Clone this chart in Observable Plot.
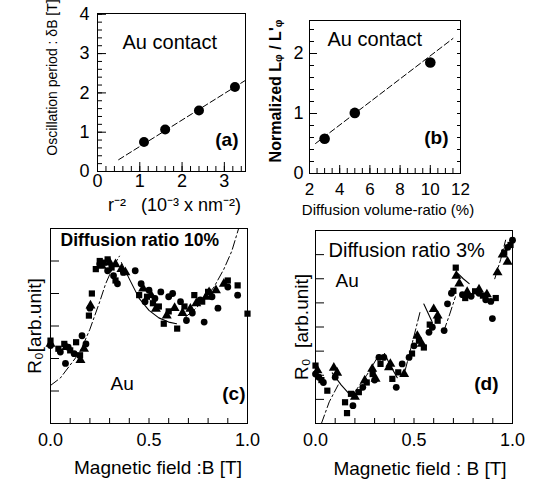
<!DOCTYPE html>
<html><head><meta charset="utf-8">
<script src="https://cdn.jsdelivr.net/npm/d3@7"></script>
<script src="https://cdn.jsdelivr.net/npm/@observablehq/plot@0.6"></script>
<style>
body{margin:0;background:#fff;}
#fig{position:relative;width:535px;height:485px;background:#fff;overflow:hidden;}
</style></head><body><div id="fig"></div>
<script>
// ---------- Panel (a) ----------
const aX = [1.10, 1.60, 2.40, 3.25];
const aY = [0.75, 1.07, 1.55, 2.15];
const aFitX = [0.5, 3.5];
const aFitY = [0.30, 2.32];
const aXTicks = [0, 1, 2, 3];
const aYTicks = [0, 1, 2, 3, 4];

// ---------- Panel (b) ----------
const bX = [3, 5, 10];
const bY = [0.58, 1.01, 1.85];
const bFitX = [2.4, 11.5];
const bFitY = [0.50, 2.25];
const bXTicks = [2, 4, 6, 8, 10, 12];
const bYTicks = [0, 1, 2];

// ---------- Panel (c) : diffusion ratio 10% ----------
const cCircleX = [0.00,0.05,0.076,0.09,0.12,0.16,0.18,0.20,0.25,0.29,0.32,0.34,0.37,0.43,0.46,0.48,0.50,0.53,0.56,0.60,0.62,0.66,0.69,0.72,0.76,0.78,0.82,0.85,0.90,0.95];
const cCircleY = [2.40,2.20,1.85,2.35,2.15,2.70,2.45,3.55,4.90,4.70,4.55,4.30,4.65,4.70,4.30,3.75,4.10,3.85,4.05,3.90,4.00,3.75,3.17,3.40,3.80,3.12,3.90,3.55,4.20,3.95];
const cSquareX = [0.00,0.04,0.07,0.10,0.13,0.15,0.195,0.21,0.23,0.25,0.27,0.29,0.31,0.33,0.45,0.49,0.52,0.55,0.575,0.60,0.643,0.68,0.73,0.77,0.80,0.90,0.95,1.00];
const cSquareY = [2.55,2.30,2.45,2.25,2.50,2.10,3.32,4.00,4.75,5.00,4.95,5.05,4.80,4.40,3.95,3.90,3.70,3.60,3.07,3.45,2.92,3.60,3.95,3.75,4.05,4.40,4.25,3.38];
const cTriX = [0.00,0.08,0.152,0.17,0.203,0.26,0.30,0.33,0.36,0.38,0.47,0.51,0.535,0.59,0.63,0.67,0.71,0.74,0.79,0.805,0.84,0.88];
const cTriY = [2.45,2.35,1.95,2.30,3.63,4.85,4.95,4.90,4.75,4.65,4.15,3.95,3.53,3.32,3.55,3.40,3.53,3.70,3.90,4.04,4.10,4.30];
const cFitX = [0,0.05,0.10,0.15,0.20,0.25,0.28,0.32,0.35, 0.36,0.40,0.45,0.50,0.55,0.60,0.64, 0.68,0.73,0.78,0.83,0.88,0.92,0.955];
const cFitY = [1.17,1.40,1.80,2.20,2.90,3.75,4.30,4.85,5.15, 4.95,4.45,3.85,3.48,3.25,3.12,3.07, 3.25,3.50,3.80,4.20,4.75,5.30,6.00];
const cFitSeg = [1,1,1,1,1,1,1,1,1, 2,2,2,2,2,2,2, 3,3,3,3,3,3,3];

// ---------- Panel (d) : diffusion ratio 3% ----------
const dCircleX = [0.00,0.017,0.04,0.10,0.19,0.24,0.30,0.322,0.347,0.41,0.44,0.475,0.50,0.576,0.593,0.653,0.67,0.69,0.746,0.79,0.83,0.864,0.89,0.898,0.975,1.00];
const dCircleY = [2.05,1.92,1.70,1.92,0.74,1.50,1.80,2.74,2.74,1.50,2.47,2.74,3.22,3.78,3.99,3.85,4.96,5.40,5.34,5.27,5.40,5.13,5.06,4.35,7.30,7.60];
const dSquareX = [0.00,0.03,0.06,0.15,0.16,0.18,0.22,0.26,0.29,0.33,0.39,0.42,0.49,0.525,0.55,0.58,0.62,0.70,0.712,0.76,0.81,0.85,0.915,0.958,0.99];
const dSquareY = [2.40,1.80,1.36,0.88,0.43,1.23,1.30,1.70,2.05,2.47,1.85,2.12,2.90,3.43,3.15,4.10,4.26,5.50,6.46,5.20,5.48,5.30,5.20,7.08,7.40];
const dTriX = [0.01,0.093,0.11,0.20,0.25,0.288,0.305,0.373,0.38,0.45,0.517,0.54,0.60,0.62,0.715,0.73,0.77,0.83,0.87,0.924,0.95,0.975];
const dTriY = [2.20,2.31,2.10,1.10,1.78,2.26,1.85,2.33,2.47,2.05,3.63,3.30,4.74,4.47,6.12,5.80,5.45,5.55,5.35,6.26,7.00,6.70];
const dFitX = [0.03,0.07,0.115, 0.085,0.13,0.18, 0.19,0.26,0.33, 0.35,0.38,0.415, 0.455,0.49,0.53, 0.55,0.57,0.59, 0.65,0.68,0.71, 0.725,0.75,0.78, 0.91,0.94,0.965];
const dFitY = [0.00,0.90,1.60, 2.10,1.60,1.15, 1.20,2.00,2.95, 2.90,2.40,1.90, 2.20,3.30,4.60, 4.95,4.60,4.25, 3.80,4.50,5.25, 6.20,6.00,5.80, 6.00,6.80,7.60];
const dFitSeg = [1,1,1, 2,2,2, 3,3,3, 4,4,4, 5,5,5, 6,6,6, 7,7,7, 8,8,8, 9,9,9];

const B_TICKS = [0, 0.5, 1.0];

// ---------- helpers ----------
const FONT = "'Liberation Sans', Arial, Helvetica, sans-serif";
const fig = document.getElementById("fig");
const zip = (xs, ys) => xs.map((x, i) => ({x, y: ys[i]}));
const fit = (xs, ys, seg) => xs.map((x, i) => ({x, y: ys[i], s: seg ? seg[i] : 0}));
const DASHDOT = "9,3,2,3";
const T = (s, o) => Plot.text([s], {lineAnchor: "middle", ...o});

function place(svg, left, top) {
  svg.style.position = "absolute";
  svg.style.left = left + "px";
  svg.style.top = top + "px";
  fig.appendChild(svg);
}

function base(o) {
  return Plot.plot({
    width: o.w, height: o.h,
    marginLeft: o.ml, marginRight: o.mr, marginTop: o.mt, marginBottom: o.mb,
    x: {domain: o.xd}, y: {domain: o.yd},
    style: {fontFamily: FONT, background: "transparent", overflow: "visible", color: "black"},
    marks: o.marks
  });
}

// ---------- (a) ----------
place(base({
  w: 265, h: 225, ml: 97, mr: 20, mt: 13, mb: 54,
  xd: [0, 3.5], yd: [0, 4.02],
  marks: [
    Plot.frame({stroke: "black"}),
    Plot.axisX({ticks: aXTicks, anchor: "bottom", tickSize: -9, fill: "none", label: null}),
    Plot.axisX({ticks: d3.range(0, 3.51, 0.2), anchor: "bottom", tickSize: -5, fill: "none", label: null}),
    Plot.axisX({ticks: aXTicks, anchor: "bottom", tickSize: 0, tickPadding: 3, fontSize: 18, tickFormat: d => d, label: null}),
    Plot.axisY({ticks: aYTicks, anchor: "left", tickSize: -9, fill: "none", label: null}),
    Plot.axisY({ticks: d3.range(0, 4.01, 0.2), anchor: "left", tickSize: -5, fill: "none", label: null}),
    Plot.axisY({ticks: aYTicks, anchor: "left", tickSize: 0, tickPadding: 8, fontSize: 18, tickFormat: d => d, label: null}),
    Plot.line(zip(aFitX, aFitY), {x: "x", y: "y", stroke: "black", strokeWidth: 1, strokeDasharray: "6,3"}),
    Plot.dot(zip(aX, aY), {x: "x", y: "y", r: 5, fill: "black", stroke: "none"}),
    T("Au contact", {frameAnchor: "top-left", textAnchor: "start", dx: 25, dy: 29, fontSize: 20}),
    T("(a)", {frameAnchor: "bottom-right", textAnchor: "end", dx: -7, dy: -32, fontSize: 19, fontWeight: "bold"}),
    T("r\u207B\u00B2\u00A0\u00A0\u00A0(10\u207B\u00B3 x nm\u207B\u00B2)", {frameAnchor: "bottom", textAnchor: "middle", dx: 3, dy: 34, fontSize: 18}),
    T("Oscillation period : \u03B4B [T]", {frameAnchor: "left", textAnchor: "middle", rotate: -90, dx: -45, dy: -15, fontSize: 14})
  ]
}), 0, 0);

// ---------- (b) ----------
place(base({
  w: 270, h: 225, ml: 44, mr: 75, mt: 20, mb: 52,
  xd: [2, 12], yd: [0, 2.55],
  marks: [
    Plot.frame({stroke: "black"}),
    Plot.axisX({ticks: bXTicks, anchor: "bottom", tickSize: -8, fill: "none", label: null}),
    Plot.axisX({ticks: d3.range(2, 12.01, 0.5), anchor: "bottom", tickSize: -5, fill: "none", label: null}),
    Plot.axisX({ticks: bXTicks, anchor: "bottom", tickSize: 0, tickPadding: 9, fontSize: 17, tickFormat: d => d, label: null}),
    Plot.axisY({ticks: bYTicks, anchor: "left", tickSize: -8, fill: "none", label: null}),
    Plot.axisY({ticks: d3.range(0, 2.51, 0.2), anchor: "left", tickSize: -5, fill: "none", label: null}),
    Plot.axisY({ticks: d3.range(0, 2.51, 0.2), anchor: "right", tickSize: -4, fill: "none", label: null}),
    Plot.axisY({ticks: bYTicks, anchor: "left", tickSize: 0, tickPadding: 6, fontSize: 18, tickFormat: d => d, label: null}),
    Plot.line(zip(bFitX, bFitY), {x: "x", y: "y", stroke: "black", strokeWidth: 1, strokeDasharray: "6,3"}),
    Plot.dot(zip(bX, bY), {x: "x", y: "y", r: 5.3, fill: "black", stroke: "none"}),
    T("Au contact", {frameAnchor: "top-left", textAnchor: "start", dx: 18, dy: 19, fontSize: 20}),
    T("(b)", {frameAnchor: "bottom-right", textAnchor: "end", dx: -12, dy: -36, fontSize: 19, fontWeight: "bold"}),
    T("Diffusion volume-ratio (%)", {frameAnchor: "bottom", textAnchor: "middle", dx: 3, dy: 37, fontSize: 15}),
    T("Normalized L\u1D69 / L'\u1D69", {frameAnchor: "left", textAnchor: "middle", rotate: -90, dx: -34, dy: -6, fontSize: 16, fontWeight: "bold"})
  ]
}), 265, 0);

// ---------- (c) ----------
place(base({
  w: 265, h: 265, ml: 50, mr: 18, mt: 8, mb: 62,
  xd: [0, 1], yd: [0, 6],
  marks: [
    Plot.frame({stroke: "black"}),
    Plot.axisX({ticks: d3.range(0, 1.001, 0.1), anchor: "bottom", tickSize: -5, fill: "none", label: null}),
    Plot.axisX({ticks: B_TICKS, anchor: "bottom", tickSize: 0, tickPadding: 10, fontSize: 18, tickFormat: d3.format(".1f"), label: null}),
    Plot.axisY({ticks: d3.range(1, 6), anchor: "left", tickSize: -9, fill: "none", label: null}),
    Plot.line(fit(cFitX, cFitY, cFitSeg).filter(d => d.s !== 2), {x: "x", y: "y", z: "s", stroke: "black", strokeWidth: 1, strokeDasharray: DASHDOT}),
    Plot.line(fit(cFitX, cFitY, cFitSeg).filter(d => d.s === 2), {x: "x", y: "y", stroke: "black", strokeWidth: 1.1}),
    Plot.dot(zip(cCircleX, cCircleY), {x: "x", y: "y", r: 3.4, symbol: "circle", fill: "black"}),
    Plot.dot(zip(cSquareX, cSquareY), {x: "x", y: "y", r: 3.5, symbol: "square", fill: "black"}),
    Plot.dot(zip(cTriX, cTriY), {x: "x", y: "y", r: 3.7, symbol: "triangle", fill: "black"}),
    T("Diffusion ratio 10%", {frameAnchor: "top-left", textAnchor: "start", dx: 10, dy: 12, fontSize: 17.5, fontWeight: "bold"}),
    T("Au", {frameAnchor: "top-left", textAnchor: "start", dx: 60, dy: 155, fontSize: 19}),
    T("(c)", {frameAnchor: "bottom-right", textAnchor: "end", dx: -2, dy: -30, fontSize: 19, fontWeight: "bold"}),
    T("Magnetic field :B [T]", {frameAnchor: "bottom", textAnchor: "middle", dx: 9, dy: 44, fontSize: 19}),
    T("R\u2080[arb.unit]", {frameAnchor: "left", textAnchor: "middle", rotate: -90, dx: -16, dy: 0, fontSize: 19})
  ]
}), 0, 220);

// ---------- (d) ----------
place(base({
  w: 270, h: 265, ml: 50, mr: 23, mt: 10, mb: 62,
  xd: [0, 1], yd: [0, 8],
  marks: [
    Plot.frame({stroke: "black"}),
    Plot.axisX({ticks: d3.range(0, 1.001, 0.1), anchor: "bottom", tickSize: -5, fill: "none", label: null}),
    Plot.axisX({ticks: B_TICKS, anchor: "bottom", tickSize: 0, tickPadding: 10, fontSize: 18, tickFormat: d3.format(".1f"), label: null}),
    Plot.axisY({ticks: d3.range(1, 8), anchor: "left", tickSize: -9, fill: "none", label: null}),
    Plot.line(fit(dFitX, dFitY, dFitSeg).filter(d => d.s % 2 === 1), {x: "x", y: "y", z: "s", stroke: "black", strokeWidth: 1, strokeDasharray: DASHDOT}),
    Plot.line(fit(dFitX, dFitY, dFitSeg).filter(d => d.s % 2 === 0), {x: "x", y: "y", z: "s", stroke: "black", strokeWidth: 1.1}),
    Plot.dot(zip(dCircleX, dCircleY), {x: "x", y: "y", r: 3.4, symbol: "circle", fill: "black"}),
    Plot.dot(zip(dSquareX, dSquareY), {x: "x", y: "y", r: 3.5, symbol: "square", fill: "black"}),
    Plot.dot(zip(dTriX, dTriY), {x: "x", y: "y", r: 3.7, symbol: "triangle", fill: "black"}),
    T("Diffusion ratio 3%", {frameAnchor: "top-left", textAnchor: "start", dx: 13, dy: 20, fontSize: 20}),
    T("Au", {frameAnchor: "top-left", textAnchor: "start", dx: 20, dy: 50, fontSize: 19}),
    T("(d)", {frameAnchor: "bottom-right", textAnchor: "end", dx: -14, dy: -40, fontSize: 19, fontWeight: "bold"}),
    T("Magnetic field : B [T]", {frameAnchor: "bottom", textAnchor: "middle", dx: 6, dy: 45, fontSize: 19}),
    T("R\u2080\u00A0\u00A0[arb.unit]", {frameAnchor: "left", textAnchor: "middle", rotate: -90, dx: -14, dy: 0, fontSize: 19})
  ]
}), 265, 220);
</script></body></html>
